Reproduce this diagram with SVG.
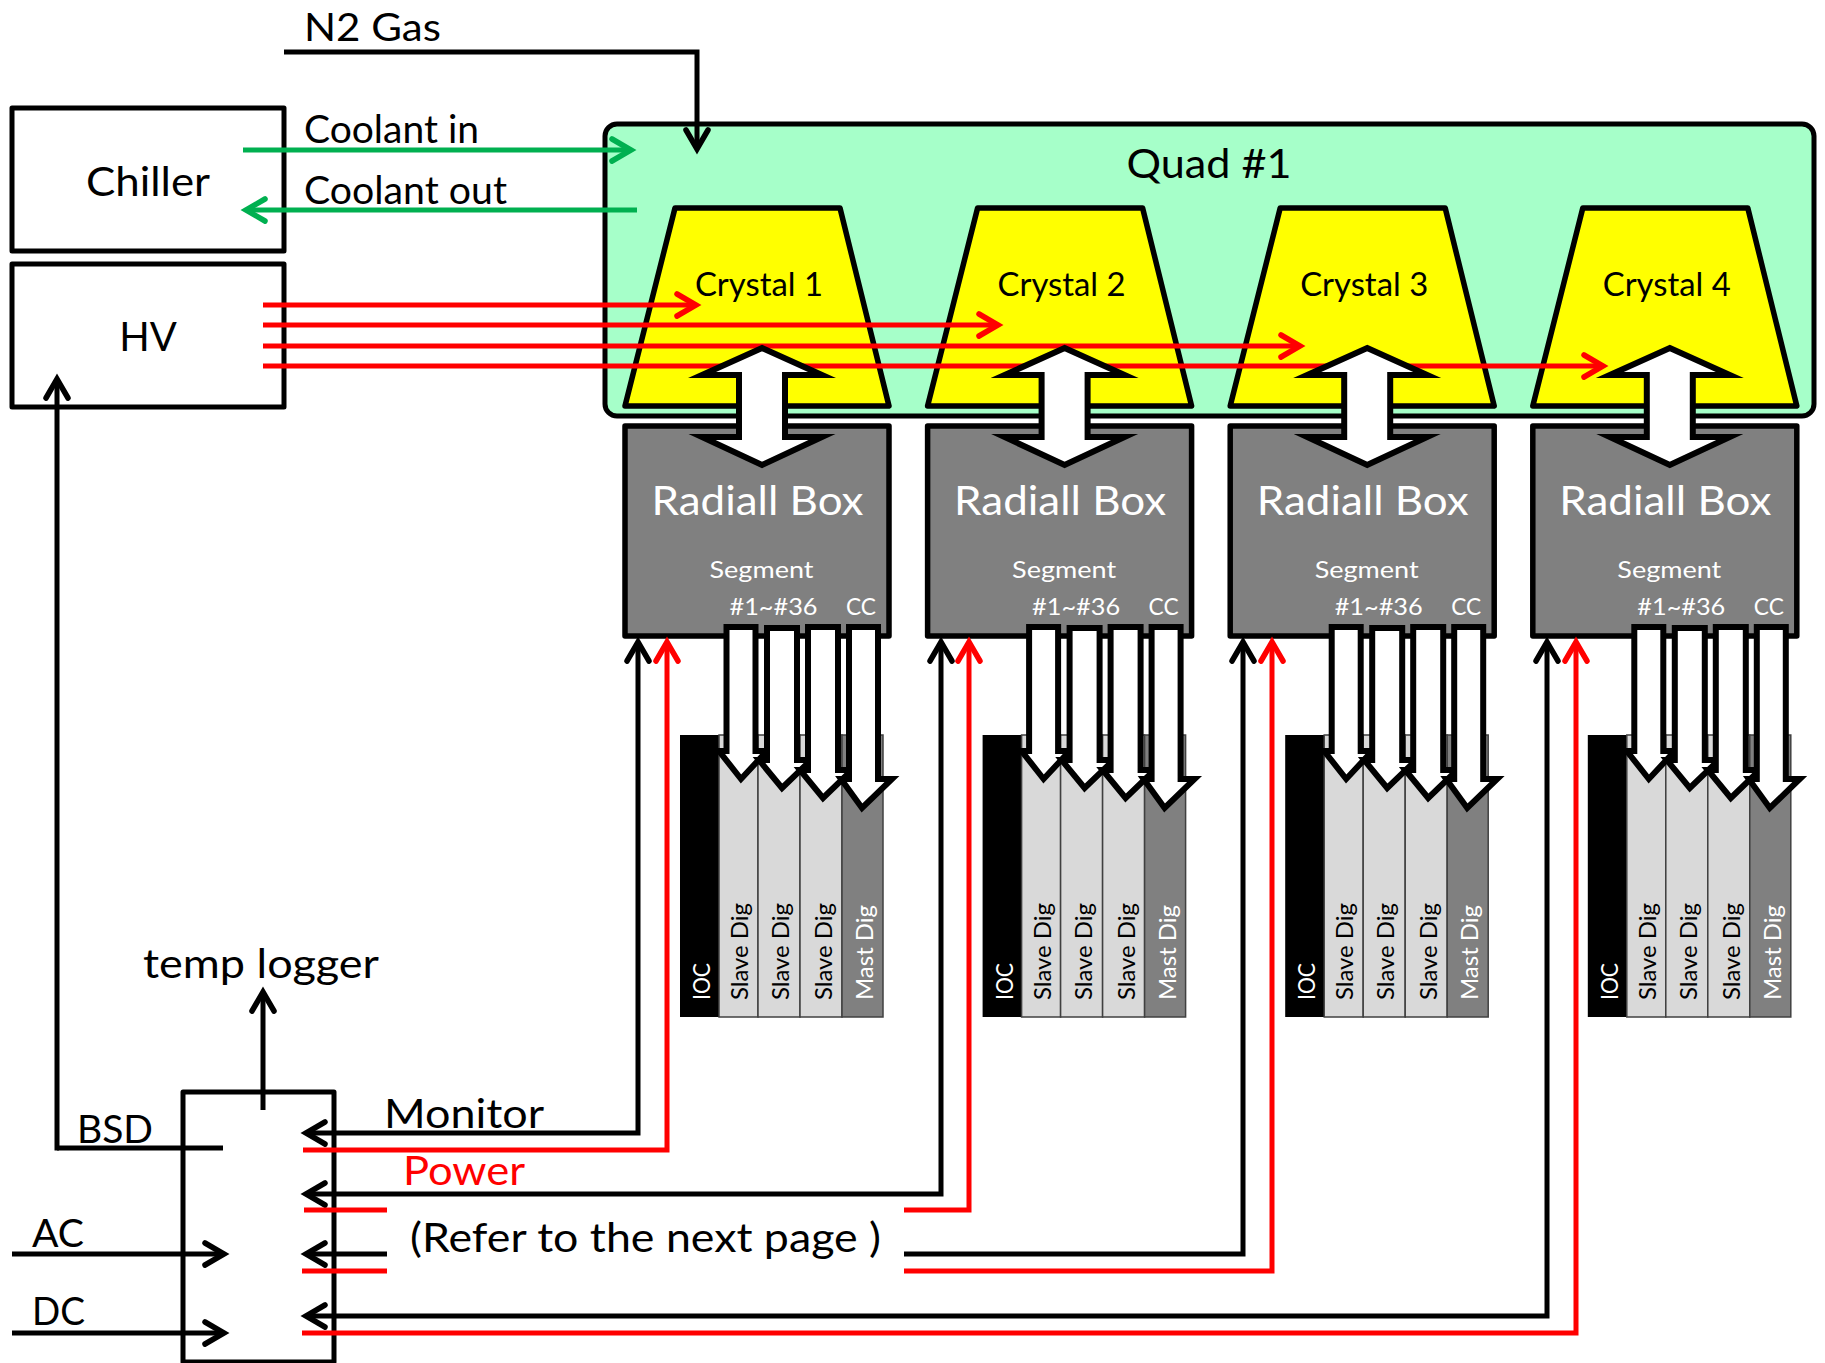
<svg xmlns="http://www.w3.org/2000/svg" width="1825" height="1363" viewBox="0 0 1825 1363">
<style>
text{font-family:Lato,"Liberation Sans",sans-serif;fill:#000}
.box{fill:#fff;stroke:#000;stroke-width:5;stroke-linejoin:round}
.quad{fill:#a6ffc9;stroke:#000;stroke-width:5}
.crys{fill:#ff0;stroke:#000;stroke-width:5.500;stroke-linejoin:round}
.rad{fill:#808080;stroke:#000;stroke-width:5.500;stroke-linejoin:round}
.bk{fill:none;stroke:#000;stroke-width:5}
.rd{fill:none;stroke:#f00;stroke-width:5}
.gr{fill:none;stroke:#00b050;stroke-width:5}
.ab{marker-end:url(#ab)}
.ar{marker-end:url(#ar)}
.ag{marker-end:url(#ag)}
.big{fill:#fff;stroke:#000;stroke-width:6;stroke-miterlimit:10}
.dig{stroke:#404040;stroke-width:1.500}
.wt{fill:#fff}
.t38{font-size:39px}
.t32{font-size:32px}
.t40{font-size:40px}
.t24{font-size:24px}
.t20{font-size:24px}
</style>
<defs>
<marker id="ab" markerUnits="userSpaceOnUse" markerWidth="32" markerHeight="32" viewBox="-26 -16 32 32" refX="0" refY="0" orient="auto-start-reverse"><path d="M-19,-11 L0,0 L-19,11" fill="none" stroke="#000" stroke-width="5.500" stroke-linecap="round"/></marker>
<marker id="ar" markerUnits="userSpaceOnUse" markerWidth="32" markerHeight="32" viewBox="-26 -16 32 32" refX="0" refY="0" orient="auto-start-reverse"><path d="M-19,-11 L0,0 L-19,11" fill="none" stroke="#f00" stroke-width="5.500" stroke-linecap="round"/></marker>
<marker id="ag" markerUnits="userSpaceOnUse" markerWidth="32" markerHeight="32" viewBox="-26 -16 32 32" refX="0" refY="0" orient="auto-start-reverse"><path d="M-19,-11 L0,0 L-19,11" fill="none" stroke="#00b050" stroke-width="5.500" stroke-linecap="round"/></marker>
<g id="dig">
<rect x="680" y="735" width="39" height="282" fill="#000"/>
<rect class="dig" x="719" y="735" width="39" height="282" fill="#d9d9d9"/>
<rect class="dig" x="758" y="735" width="42" height="282" fill="#d9d9d9"/>
<rect class="dig" x="800" y="735" width="42" height="282" fill="#d9d9d9"/>
<rect class="dig" x="842" y="735" width="41" height="282" fill="#808080"/>
</g>
<g id="bigarrows">
<path class="big" d="M762,348L822,375H785V437H822L762,465L702,437H739V375H702Z"/>
<path class="big" d="M726.500,627H755.500V751H767L741,779L719,751H726.500Z"/>
<path class="big" d="M767,628H797V760H811L782,788L759,760H767Z"/>
<path class="big" d="M808,627H838V770H852L823,798L800,770H808Z"/>
<path class="big" d="M849,627H878V779H892L862,808L841,779H849Z"/>
</g>
</defs>
<rect width="1825" height="1363" fill="#fff"/>

<g id="chiller"><rect class="box" x="12" y="108" width="272" height="143"/><text class="t40" x="148" y="196" text-anchor="middle" textLength="124" lengthAdjust="spacingAndGlyphs">Chiller</text></g>
<g id="hv"><rect class="box" x="12" y="264" width="272" height="143"/><text class="t40" x="148" y="351" text-anchor="middle">HV</text></g>
<g id="quad"><rect class="quad" x="605" y="124" width="1209" height="292" rx="12"/><text class="t40" x="1209" y="178" text-anchor="middle" textLength="165" lengthAdjust="spacingAndGlyphs">Quad #1</text></g>

<g id="crystal1"><path class="crys" d="M675,208H840L889,406H625Z"/><text class="t32" x="759" y="296" text-anchor="middle" textLength="128" lengthAdjust="spacingAndGlyphs">Crystal 1</text></g>
<g id="crystal2" transform="translate(302.6,0)"><path class="crys" d="M675,208H840L889,406H625Z"/><text class="t32" x="759" y="296" text-anchor="middle" textLength="128" lengthAdjust="spacingAndGlyphs">Crystal 2</text></g>
<g id="crystal3" transform="translate(605.2,0)"><path class="crys" d="M675,208H840L889,406H625Z"/><text class="t32" x="759" y="296" text-anchor="middle" textLength="128" lengthAdjust="spacingAndGlyphs">Crystal 3</text></g>
<g id="crystal4" transform="translate(907.8,0)"><path class="crys" d="M675,208H840L889,406H625Z"/><text class="t32" x="759" y="296" text-anchor="middle" textLength="128" lengthAdjust="spacingAndGlyphs">Crystal 4</text></g>

<g id="radiall1"><rect class="rad" x="625" y="426" width="264" height="210"/><text class="t40 wt" x="757.500" y="515" text-anchor="middle" textLength="212" lengthAdjust="spacingAndGlyphs">Radiall Box</text><text class="t24 wt" x="761.500" y="578" text-anchor="middle" textLength="104" lengthAdjust="spacingAndGlyphs">Segment</text><text class="t24 wt" x="773.500" y="615" text-anchor="middle" textLength="88" lengthAdjust="spacingAndGlyphs">#1~#36</text><text class="t24 wt" x="861" y="615" text-anchor="middle" textLength="30" lengthAdjust="spacingAndGlyphs">CC</text></g>
<g id="radiall2" transform="translate(302.6,0)"><rect class="rad" x="625" y="426" width="264" height="210"/><text class="t40 wt" x="757.500" y="515" text-anchor="middle" textLength="212" lengthAdjust="spacingAndGlyphs">Radiall Box</text><text class="t24 wt" x="761.500" y="578" text-anchor="middle" textLength="104" lengthAdjust="spacingAndGlyphs">Segment</text><text class="t24 wt" x="773.500" y="615" text-anchor="middle" textLength="88" lengthAdjust="spacingAndGlyphs">#1~#36</text><text class="t24 wt" x="861" y="615" text-anchor="middle" textLength="30" lengthAdjust="spacingAndGlyphs">CC</text></g>
<g id="radiall3" transform="translate(605.2,0)"><rect class="rad" x="625" y="426" width="264" height="210"/><text class="t40 wt" x="757.500" y="515" text-anchor="middle" textLength="212" lengthAdjust="spacingAndGlyphs">Radiall Box</text><text class="t24 wt" x="761.500" y="578" text-anchor="middle" textLength="104" lengthAdjust="spacingAndGlyphs">Segment</text><text class="t24 wt" x="773.500" y="615" text-anchor="middle" textLength="88" lengthAdjust="spacingAndGlyphs">#1~#36</text><text class="t24 wt" x="861" y="615" text-anchor="middle" textLength="30" lengthAdjust="spacingAndGlyphs">CC</text></g>
<g id="radiall4" transform="translate(907.8,0)"><rect class="rad" x="625" y="426" width="264" height="210"/><text class="t40 wt" x="757.500" y="515" text-anchor="middle" textLength="212" lengthAdjust="spacingAndGlyphs">Radiall Box</text><text class="t24 wt" x="761.500" y="578" text-anchor="middle" textLength="104" lengthAdjust="spacingAndGlyphs">Segment</text><text class="t24 wt" x="773.500" y="615" text-anchor="middle" textLength="88" lengthAdjust="spacingAndGlyphs">#1~#36</text><text class="t24 wt" x="861" y="615" text-anchor="middle" textLength="30" lengthAdjust="spacingAndGlyphs">CC</text></g>

<g id="digitizers1"><use href="#dig"/><text class="t20 wt" transform="translate(710,1000) rotate(-90)" textLength="37" lengthAdjust="spacingAndGlyphs">IOC</text><text class="t20" transform="translate(748,1000) rotate(-90)" textLength="97" lengthAdjust="spacingAndGlyphs">Slave Dig</text><text class="t20" transform="translate(789,1000) rotate(-90)" textLength="97" lengthAdjust="spacingAndGlyphs">Slave Dig</text><text class="t20" transform="translate(832,1000) rotate(-90)" textLength="97" lengthAdjust="spacingAndGlyphs">Slave Dig</text><text class="t20 wt" transform="translate(873,1000) rotate(-90)" textLength="95" lengthAdjust="spacingAndGlyphs">Mast Dig</text></g>
<g id="digitizers2" transform="translate(302.6,0)"><use href="#dig"/><text class="t20 wt" transform="translate(710,1000) rotate(-90)" textLength="37" lengthAdjust="spacingAndGlyphs">IOC</text><text class="t20" transform="translate(748,1000) rotate(-90)" textLength="97" lengthAdjust="spacingAndGlyphs">Slave Dig</text><text class="t20" transform="translate(789,1000) rotate(-90)" textLength="97" lengthAdjust="spacingAndGlyphs">Slave Dig</text><text class="t20" transform="translate(832,1000) rotate(-90)" textLength="97" lengthAdjust="spacingAndGlyphs">Slave Dig</text><text class="t20 wt" transform="translate(873,1000) rotate(-90)" textLength="95" lengthAdjust="spacingAndGlyphs">Mast Dig</text></g>
<g id="digitizers3" transform="translate(605.2,0)"><use href="#dig"/><text class="t20 wt" transform="translate(710,1000) rotate(-90)" textLength="37" lengthAdjust="spacingAndGlyphs">IOC</text><text class="t20" transform="translate(748,1000) rotate(-90)" textLength="97" lengthAdjust="spacingAndGlyphs">Slave Dig</text><text class="t20" transform="translate(789,1000) rotate(-90)" textLength="97" lengthAdjust="spacingAndGlyphs">Slave Dig</text><text class="t20" transform="translate(832,1000) rotate(-90)" textLength="97" lengthAdjust="spacingAndGlyphs">Slave Dig</text><text class="t20 wt" transform="translate(873,1000) rotate(-90)" textLength="95" lengthAdjust="spacingAndGlyphs">Mast Dig</text></g>
<g id="digitizers4" transform="translate(907.8,0)"><use href="#dig"/><text class="t20 wt" transform="translate(710,1000) rotate(-90)" textLength="37" lengthAdjust="spacingAndGlyphs">IOC</text><text class="t20" transform="translate(748,1000) rotate(-90)" textLength="97" lengthAdjust="spacingAndGlyphs">Slave Dig</text><text class="t20" transform="translate(789,1000) rotate(-90)" textLength="97" lengthAdjust="spacingAndGlyphs">Slave Dig</text><text class="t20" transform="translate(832,1000) rotate(-90)" textLength="97" lengthAdjust="spacingAndGlyphs">Slave Dig</text><text class="t20 wt" transform="translate(873,1000) rotate(-90)" textLength="95" lengthAdjust="spacingAndGlyphs">Mast Dig</text></g>

<g id="controller"><rect class="box" x="183" y="1092" width="151" height="270" style="fill:none"/></g>

<g id="connectors">
<path class="bk ab" d="M284,52H697V149"/>
<path class="gr ag" d="M243,150H631"/>
<path class="gr ag" d="M637,210H246"/>
<path class="rd ar" d="M263,305H696"/>
<path class="rd ar" d="M263,325H998"/>
<path class="rd ar" d="M263,346H1300"/>
<path class="rd ar" d="M263,366H1603"/>
<path class="bk ab" d="M59,1148H57V379"/>
<path class="bk" d="M57,1148H223"/>
<path class="bk ab" d="M263,1110V992"/>
<path class="bk ab" d="M12,1254H224"/>
<path class="bk ab" d="M12,1333H224"/>
<path class="bk ab" style="marker-start:url(#ab)" d="M306,1133H638V642"/>
<path class="rd ar" d="M303,1150H667V642"/>
<path class="bk ab" style="marker-start:url(#ab)" d="M306,1194H941V642"/>
<path class="rd" d="M304,1210H387"/>
<path class="rd ar" d="M904,1210H969V642"/>
<path class="bk ab" d="M387,1254H306"/>
<path class="rd" d="M302,1271H387"/>
<path class="bk ab" d="M904,1254H1243V642"/>
<path class="rd ar" d="M904,1271H1272V642"/>
<path class="bk ab" style="marker-start:url(#ab)" d="M306,1316H1547V642"/>
<path class="rd ar" d="M302,1333H1576V642"/>
<g id="arrows1"><use href="#bigarrows"/></g>
<g id="arrows2" transform="translate(302.6,0)"><use href="#bigarrows"/></g>
<g id="arrows3" transform="translate(605.2,0)"><use href="#bigarrows"/></g>
<g id="arrows4" transform="translate(907.8,0)"><use href="#bigarrows"/></g>
</g>

<g id="labels">
<text class="t38" x="304" y="41" textLength="137" lengthAdjust="spacingAndGlyphs">N2 Gas</text>
<text class="t38" x="304" y="143" textLength="175" lengthAdjust="spacingAndGlyphs">Coolant in</text>
<text class="t38" x="304" y="204" textLength="203" lengthAdjust="spacingAndGlyphs">Coolant out</text>
<text class="t40" x="143" y="978" textLength="236" lengthAdjust="spacingAndGlyphs">temp logger</text>
<text class="t38" x="77" y="1143" textLength="76" lengthAdjust="spacingAndGlyphs">BSD</text>
<text class="t40" x="384" y="1128" textLength="160" lengthAdjust="spacingAndGlyphs">Monitor</text>
<text class="t40" style="fill:#f00" x="403" y="1185" textLength="122" lengthAdjust="spacingAndGlyphs">Power</text>
<text class="t40" x="410" y="1252" textLength="471" lengthAdjust="spacingAndGlyphs">(Refer to the next page )</text>
<text class="t38" x="32" y="1247" textLength="52" lengthAdjust="spacingAndGlyphs">AC</text>
<text class="t38" x="32" y="1325" textLength="53" lengthAdjust="spacingAndGlyphs">DC</text>
</g>
</svg>
